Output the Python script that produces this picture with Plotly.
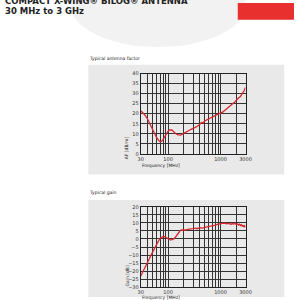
import plotly.graph_objects as go

# Antenna factor (dB/m) vs frequency (MHz)
af_freq = [30, 33, 36, 40, 44, 48, 52, 56, 60, 64, 68, 72, 76, 80, 85, 90, 95, 100, 106, 112, 118, 125, 132,
           140, 150, 160, 170, 180, 190, 200, 220, 240, 260, 280, 300, 330, 360, 400, 430, 460, 500, 550,
           600, 650, 700, 750, 800, 900, 1000, 1100, 1200, 1350, 1500, 1700, 1900, 2000, 2200, 2400, 2600, 2800, 3000]
af_val = [21.5, 20.6, 19.4, 17.6, 15.6, 13.6, 11.6, 9.8, 8.2, 7.0, 6.3, 6.1, 6.4, 7.2, 8.4, 9.6, 10.6, 11.3, 11.9, 12.1, 11.9, 11.3, 10.6,
          10.0, 9.6, 9.3, 9.4, 9.6, 10.0, 10.4, 11.0, 11.5, 11.9, 12.3, 12.6, 13.2, 13.8, 14.6, 15.6, 15.4, 16.4, 17.0,
          17.8, 18.2, 18.4, 18.9, 19.2, 19.8, 20.3, 20.8, 21.6, 22.6, 23.8, 25.0, 26.0, 26.8, 27.8, 28.6, 29.8, 31.3, 33.0]

# Gain (dB) vs frequency (MHz)
g_freq = [30, 33, 36, 40, 44, 48, 52, 56, 60, 65, 70, 75, 80, 85, 90, 95, 100, 110, 120, 130, 140, 150, 160,
          170, 180, 200, 220, 250, 280, 300, 330, 360, 400, 450, 500, 550, 600, 650, 700, 800, 900, 1000,
          1100, 1200, 1300, 1400, 1500, 1600, 1700, 1800, 1900, 2000, 2100, 2200, 2300, 2400, 2500, 2600, 2700, 2800, 2900, 3000]
g_val = [-23.0, -20.5, -18.0, -15.0, -12.2, -9.6, -7.2, -5.0, -3.2, -1.4, 0.2, 1.2, 1.6, 1.5, 1.0, 0.4, -0.1, -0.5, -0.4, 0.2, 1.4, 3.0, 4.3,
         5.2, 5.6, 5.4, 5.6, 6.1, 6.6, 6.5, 6.8, 6.4, 7.0, 6.8, 7.2, 7.4, 7.6, 7.8, 8.1, 8.6, 9.2, 9.6,
         9.7, 9.8, 9.5, 9.7, 9.6, 9.2, 9.6, 9.3, 9.7, 9.0, 9.4, 8.6, 9.2, 8.4, 9.0, 7.8, 8.6, 7.4, 8.2, 7.4]

grid_vals = [30, 40, 50, 60, 70, 80, 90, 100, 200, 300, 400, 500, 600, 700, 800, 900, 1000, 2000, 3000]
grid_text = ['30', '', '', '', '', '', '', '100', '', '', '', '', '', '', '', '', '1000', '', '3000']

W = H = 300
def px(x): return x / W
def py(y): return 1 - y / H

RED = '#d8262e'
fig = go.Figure()
fig.add_trace(go.Scatter(x=af_freq, y=af_val, mode='lines', line=dict(color=RED, width=1.3),
                         xaxis='x', yaxis='y', showlegend=False))
fig.add_trace(go.Scatter(x=g_freq, y=g_val, mode='lines', line=dict(color=RED, width=1.3),
                         xaxis='x2', yaxis='y2', showlegend=False))

tickfont = dict(family='DejaVu Sans', size=5, color='#333')
xcommon = dict(type='log', range=[1.4771, 3.4771], tickvals=grid_vals, ticktext=grid_text,
               showgrid=True, gridcolor='#333', gridwidth=0.8, showline=True, linecolor='#222', linewidth=1,
               mirror=True, ticks='', tickfont=tickfont, zeroline=False, ticklen=0)
ycommon = dict(showgrid=True, gridcolor='#333', gridwidth=0.8, showline=True, linecolor='#222', linewidth=1,
               mirror=True, ticks='', tickfont=tickfont, zeroline=False, dtick=5)

shapes = [
    dict(type='circle', xref='paper', yref='paper', x0=px(70), x1=px(250), y0=py(45), y1=py(-40),
         fillcolor='rgba(0,0,0,0.05)', line=dict(width=0), layer='below'),
    dict(type='rect', xref='paper', yref='paper', x0=px(242), x1=px(300), y0=py(17), y1=py(0),
         fillcolor='#e8312f', line=dict(width=0), layer='above'),
    dict(type='rect', xref='paper', yref='paper', x0=px(88), x1=px(290), y0=py(175), y1=py(63),
         fillcolor='#e9e9e9', line=dict(width=0), layer='below'),
    dict(type='rect', xref='paper', yref='paper', x0=px(88), x1=px(290), y0=py(300), y1=py(201),
         fillcolor='#e9e9e9', line=dict(width=0), layer='below'),
]

def ann(text, x, y, size, bold=False, xanchor='left', yanchor='middle', angle=0, color='#222'):
    return dict(text=f'<b>{text}</b>' if bold else text, x=px(x), y=py(y), xref='paper', yref='paper',
                showarrow=False, xanchor=xanchor, yanchor=yanchor, textangle=angle, borderpad=0,
                font=dict(family='DejaVu Sans', size=size, color=color))

annotations = [
    ann('COMPACT X-WING® BILOG® ANTENNA', 1, -2, 8.5, bold=True),
    ann('30 MHz to 3 GHz', 1, 8, 8.5, bold=True),
    ann('Typical antenna factor', 88, 57, 4.5),
    ann('Typical gain', 88, 193, 4.5),
    ann('AF [dB/m]', 127, 148, 4.5, angle=-90, xanchor='center'),
    ann('Frequency [MHz]', 142, 166, 4.5),
    ann('Gain [dB]', 128, 279, 4.5, angle=-90, xanchor='center'),
    ann('Frequency [MHz]', 142, 301, 4.5),
]

fig.update_layout(
    width=W, height=H, margin=dict(l=0, r=0, t=0, b=0),
    paper_bgcolor='white', plot_bgcolor='white',
    xaxis=dict(domain=[px(142), px(250)], anchor='y', **xcommon),
    yaxis=dict(domain=[py(154), py(72)], range=[0, 40], anchor='x', **ycommon),
    xaxis2=dict(domain=[px(142), px(250)], anchor='y2', **xcommon),
    yaxis2=dict(domain=[py(290), py(208)], range=[-30, 20], anchor='x2', **ycommon),
    shapes=shapes, annotations=annotations,
)

fig.write_html('out.html')
